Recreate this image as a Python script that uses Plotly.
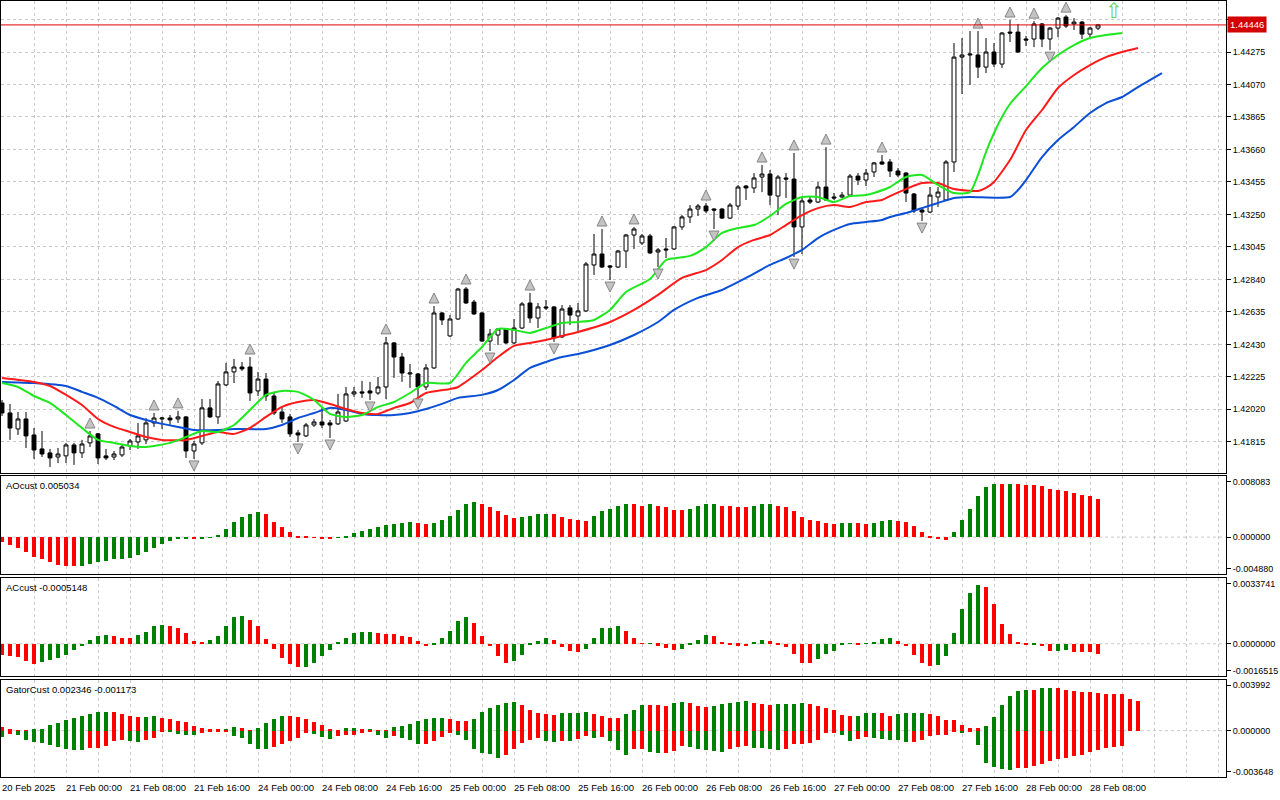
import plotly.graph_objects as go
from plotly.subplots import make_subplots

# ---------------------------------------------------------------------
# data (H1, 20 Feb 16:00 .. 28 Feb 09:00)
# ---------------------------------------------------------------------
time_labels = ["20 Feb 2025", "21 Feb 00:00", "21 Feb 08:00", "21 Feb 16:00",
               "24 Feb 00:00", "24 Feb 08:00", "24 Feb 16:00", "25 Feb 00:00",
               "25 Feb 08:00", "25 Feb 16:00", "26 Feb 00:00", "26 Feb 08:00",
               "26 Feb 16:00", "27 Feb 00:00", "27 Feb 08:00", "27 Feb 16:00",
               "28 Feb 00:00", "28 Feb 08:00"]
label_bars = [0, 8, 16, 24, 32, 40, 48, 56, 64, 72, 80, 88, 96, 104, 112, 120, 128, 136]

open_ = [
    1.42060, 1.41997, 1.41896, 1.41959, 1.41858, 1.41770, 1.41745, 1.41719, 1.41726, 1.41795,
    1.41745, 1.41808, 1.41865, 1.41726, 1.41719, 1.41732, 1.41789, 1.41814, 1.41827, 1.41934,
    1.41959, 1.41965, 1.41959, 1.41972, 1.41757, 1.41808, 1.42029, 1.41972, 1.42174, 1.42256,
    1.42287, 1.42287, 1.42136, 1.42211, 1.42104, 1.42003, 1.41972, 1.41871, 1.41852, 1.41921,
    1.41940, 1.41934, 1.41928, 1.41946, 1.42117, 1.42130, 1.42136, 1.42123, 1.42161, 1.42439,
    1.42350, 1.42243, 1.42243, 1.42161, 1.42281, 1.42628, 1.42483, 1.42590, 1.42779, 1.42697,
    1.42628, 1.42451, 1.42489, 1.42527, 1.42439, 1.42533, 1.42691, 1.42596, 1.42666, 1.42666,
    1.42477, 1.42660, 1.42609, 1.42641, 1.42931, 1.43000, 1.42925, 1.42918, 1.43019, 1.43120,
    1.43070, 1.43114, 1.43013, 1.43032, 1.43032, 1.43171, 1.43234, 1.43284, 1.43303, 1.43284,
    1.43284, 1.43227, 1.43303, 1.43429, 1.43417, 1.43486, 1.43505, 1.43366, 1.43480, 1.43473,
    1.43171, 1.43341, 1.43328, 1.43423, 1.43360, 1.43360, 1.43372, 1.43492, 1.43467, 1.43518,
    1.43581, 1.43581, 1.43524, 1.43511, 1.43379, 1.43278, 1.43265, 1.43360, 1.43341, 1.43581,
    1.44243, 1.44256, 1.44256, 1.44180, 1.44275, 1.44199, 1.44401, 1.44401, 1.44357, 1.44357,
    1.44452, 1.44357, 1.44426, 1.44496, 1.44452, 1.44464, 1.44388, 1.44426,
]
high = [
    1.42079, 1.42054, 1.42003, 1.42003, 1.41902, 1.41883, 1.41770, 1.41776, 1.41808, 1.41808,
    1.41827, 1.41883, 1.41871, 1.41770, 1.41757, 1.41801, 1.41833, 1.41934, 1.41965, 1.41997,
    1.41972, 1.41984, 1.42010, 1.41978, 1.41820, 1.42085, 1.42085, 1.42199, 1.42313, 1.42338,
    1.42319, 1.42350, 1.42256, 1.42249, 1.42130, 1.42035, 1.41991, 1.41890, 1.41934, 1.41959,
    1.42029, 1.41953, 1.42117, 1.42161, 1.42161, 1.42199, 1.42193, 1.42224, 1.42477, 1.42445,
    1.42376, 1.42306, 1.42249, 1.42306, 1.42672, 1.42634, 1.42615, 1.42786, 1.42792, 1.42710,
    1.42634, 1.42527, 1.42533, 1.42533, 1.42590, 1.42697, 1.42754, 1.42691, 1.42710, 1.42672,
    1.42678, 1.42678, 1.42691, 1.42950, 1.43127, 1.43158, 1.42931, 1.43026, 1.43127, 1.43171,
    1.43127, 1.43127, 1.43038, 1.43101, 1.43177, 1.43246, 1.43309, 1.43316, 1.43322, 1.43290,
    1.43290, 1.43322, 1.43436, 1.43436, 1.43511, 1.43562, 1.43530, 1.43499, 1.43511, 1.43638,
    1.43360, 1.43366, 1.43455, 1.43675, 1.43385, 1.43391, 1.43505, 1.43511, 1.43537, 1.43581,
    1.43625, 1.43600, 1.43543, 1.43518, 1.43385, 1.43297, 1.43423, 1.43423, 1.43593, 1.44332,
    1.44363, 1.44407, 1.44407, 1.44363, 1.44332, 1.44401, 1.44477, 1.44452, 1.44376, 1.44470,
    1.44458, 1.44433, 1.44496, 1.44508, 1.44489, 1.44470, 1.44433, 1.44452,
]
low = [
    1.41978, 1.41827, 1.41858, 1.41776, 1.41707, 1.41719, 1.41656, 1.41681, 1.41681, 1.41669,
    1.41713, 1.41782, 1.41675, 1.41700, 1.41700, 1.41719, 1.41763, 1.41770, 1.41801, 1.41909,
    1.41896, 1.41921, 1.41934, 1.41713, 1.41707, 1.41795, 1.41965, 1.41928, 1.42167, 1.42186,
    1.42262, 1.42073, 1.42104, 1.42073, 1.41984, 1.41934, 1.41845, 1.41814, 1.41845, 1.41909,
    1.41902, 1.41839, 1.41921, 1.41940, 1.42098, 1.42092, 1.42079, 1.42111, 1.42085, 1.42218,
    1.42193, 1.42155, 1.42098, 1.42142, 1.42275, 1.42552, 1.42477, 1.42584, 1.42685, 1.42615,
    1.42445, 1.42388, 1.42426, 1.42432, 1.42432, 1.42527, 1.42565, 1.42533, 1.42647, 1.42445,
    1.42470, 1.42552, 1.42508, 1.42634, 1.42868, 1.42912, 1.42836, 1.42912, 1.42912, 1.43032,
    1.43057, 1.43000, 1.42918, 1.42975, 1.43026, 1.43152, 1.43196, 1.43240, 1.43259, 1.43158,
    1.43221, 1.43221, 1.43278, 1.43341, 1.43385, 1.43391, 1.43309, 1.43246, 1.43354, 1.42981,
    1.43000, 1.43316, 1.43322, 1.43335, 1.43341, 1.43354, 1.43366, 1.43436, 1.43429, 1.43486,
    1.43562, 1.43486, 1.43486, 1.43328, 1.43259, 1.43208, 1.43259, 1.43297, 1.43335, 1.43518,
    1.44010, 1.44067, 1.44111, 1.44142, 1.44180, 1.44174, 1.44338, 1.44269, 1.44313, 1.44306,
    1.44306, 1.44287, 1.44369, 1.44426, 1.44414, 1.44357, 1.44369, 1.44414,
]
close = [
    1.41997, 1.41902, 1.41959, 1.41852, 1.41763, 1.41738, 1.41713, 1.41738, 1.41795, 1.41745,
    1.41801, 1.41852, 1.41713, 1.41713, 1.41738, 1.41782, 1.41820, 1.41852, 1.41934, 1.41965,
    1.41965, 1.41953, 1.41972, 1.41757, 1.41801, 1.42029, 1.41972, 1.42180, 1.42256, 1.42287,
    1.42275, 1.42123, 1.42211, 1.42104, 1.41997, 1.41959, 1.41865, 1.41858, 1.41921, 1.41940,
    1.41921, 1.41921, 1.42003, 1.42117, 1.42130, 1.42123, 1.42123, 1.42161, 1.42439, 1.42350,
    1.42249, 1.42249, 1.42161, 1.42281, 1.42628, 1.42584, 1.42590, 1.42779, 1.42691, 1.42622,
    1.42451, 1.42495, 1.42527, 1.42439, 1.42533, 1.42685, 1.42596, 1.42666, 1.42660, 1.42470,
    1.42653, 1.42615, 1.42641, 1.42937, 1.43000, 1.42918, 1.42918, 1.43019, 1.43120, 1.43158,
    1.43114, 1.43007, 1.43026, 1.43026, 1.43171, 1.43234, 1.43284, 1.43303, 1.43272, 1.43278,
    1.43227, 1.43309, 1.43423, 1.43417, 1.43480, 1.43505, 1.43372, 1.43486, 1.43473, 1.43171,
    1.43335, 1.43328, 1.43423, 1.43341, 1.43354, 1.43372, 1.43492, 1.43467, 1.43511, 1.43575,
    1.43568, 1.43524, 1.43499, 1.43385, 1.43272, 1.43265, 1.43372, 1.43391, 1.43581, 1.44243,
    1.44256, 1.44262, 1.44180, 1.44275, 1.44199, 1.44395, 1.44395, 1.44275, 1.44351, 1.44452,
    1.44357, 1.44426, 1.44489, 1.44439, 1.44464, 1.44388, 1.44426, 1.44446,
]

# alligator lines (read at sample bars; jaw +8, teeth +5, lips +3 shift)
jaw_idx = [0, 4, 8, 10, 12, 14, 16, 18, 20, 22, 24, 27, 29, 33, 35, 37, 39, 41, 43, 45,
           47, 49, 51, 53, 55, 57, 60, 62, 64, 66, 68, 70, 72, 76, 79, 82, 84, 87, 90, 93,
           96, 98, 100, 102, 104, 106, 108, 110, 111, 113, 115, 117, 119, 121, 126, 127, 128,
           130, 132, 134, 136, 138, 140, 142, 145]
jaw_val = [1.42193, 1.42186, 1.42167, 1.42130, 1.42092, 1.42041, 1.41984, 1.41953, 1.41928,
           1.41909, 1.41890, 1.41890, 1.41896, 1.41896, 1.41921, 1.41965, 1.41997, 1.42029,
           1.42016, 1.41991, 1.41984, 1.41984, 1.41997, 1.42022, 1.42054, 1.42092, 1.42111,
           1.42142, 1.42205, 1.42281, 1.42319, 1.42350, 1.42369, 1.42426, 1.42489, 1.42571,
           1.42647, 1.42723, 1.42773, 1.42849, 1.42931, 1.42975, 1.43026, 1.43101, 1.43152,
           1.43190, 1.43202, 1.43215, 1.43234, 1.43259, 1.43290, 1.43322, 1.43354, 1.43360,
           1.43360, 1.43404, 1.43467, 1.43612, 1.43720, 1.43802, 1.43890, 1.43953, 1.43991,
           1.44054, 1.44142]
teeth_idx = [0, 4, 6, 8, 10, 12, 14, 16, 18, 20, 23, 25, 27, 29, 31, 33, 35, 37, 39, 41,
             43, 45, 47, 49, 51, 53, 56, 57, 60, 62, 64, 66, 68, 70, 72, 76, 79, 82, 85, 88,
             90, 92, 94, 96, 98, 100, 102, 104, 106, 108, 110, 111, 113, 115, 117, 119, 122,
             123, 124, 126, 128, 130, 132, 134, 136, 138, 140, 142]
teeth_val = [1.42218, 1.42193, 1.42167, 1.42111, 1.42047, 1.41959, 1.41909, 1.41877, 1.41845,
             1.41827, 1.41827, 1.41852, 1.41877, 1.41865, 1.41902, 1.41972, 1.42035, 1.42066,
             1.42079, 1.42054, 1.42022, 1.41997, 1.41991, 1.42029, 1.42060, 1.42123, 1.42148,
             1.42161, 1.42268, 1.42350, 1.42420, 1.42439, 1.42458, 1.42483, 1.42508, 1.42571,
             1.42647, 1.42742, 1.42849, 1.42899, 1.42962, 1.43044, 1.43089, 1.43120, 1.43183,
             1.43246, 1.43290, 1.43309, 1.43297, 1.43328, 1.43341, 1.43366, 1.43410, 1.43448,
             1.43448, 1.43410, 1.43398, 1.43417, 1.43455, 1.43593, 1.43783, 1.43909, 1.44048,
             1.44130, 1.44193, 1.44243, 1.44275, 1.44300]
lips_idx = [0, 2, 4, 6, 8, 10, 12, 14, 16, 18, 21, 23, 25, 27, 29, 31, 33, 35, 37, 39,
            41, 43, 45, 47, 49, 51, 53, 56, 58, 60, 62, 64, 66, 68, 70, 72, 74, 76, 78, 81,
            83, 86, 88, 90, 92, 94, 96, 98, 100, 102, 104, 106, 108, 109, 111, 113, 115, 117,
            119, 121, 122, 123, 124, 125, 126, 128, 130, 132, 134, 136, 138, 140]
lips_val = [1.42186, 1.42161, 1.42104, 1.42060, 1.41984, 1.41902, 1.41827, 1.41808, 1.41789,
            1.41782, 1.41808, 1.41845, 1.41883, 1.41877, 1.41921, 1.42016, 1.42111, 1.42136,
            1.42130, 1.42079, 1.41991, 1.41972, 1.41984, 1.42035, 1.42066, 1.42123, 1.42186,
            1.42186, 1.42313, 1.42413, 1.42527, 1.42521, 1.42502, 1.42533, 1.42565, 1.42571,
            1.42584, 1.42647, 1.42760, 1.42842, 1.42962, 1.42988, 1.43044, 1.43133, 1.43164,
            1.43183, 1.43240, 1.43316, 1.43360, 1.43360, 1.43328, 1.43366, 1.43372, 1.43385,
            1.43423, 1.43486, 1.43499, 1.43436, 1.43385, 1.43391, 1.43499, 1.43644, 1.43764,
            1.43865, 1.43947, 1.44060, 1.44174, 1.44256, 1.44319, 1.44363, 1.44382, 1.44395]

# fractal bars
frac_up = [11, 19, 22, 31, 48, 54, 58, 66, 75, 79, 88, 95, 99, 103, 110, 122, 126, 129, 133]
frac_dn = [6, 9, 12, 24, 37, 41, 46, 52, 61, 69, 76, 82, 89, 99, 115, 131]

# signal arrow after the last bar
signal_bars = [139]
signal_prices = [1.44520]

price_ticks = [1.41815, 1.42020, 1.42225, 1.42430, 1.42635, 1.42840, 1.43045,
               1.43250, 1.43455, 1.43660, 1.43865, 1.44070, 1.44275, 1.44480]

ao = [
    -0.00062, -0.00107, -0.00142, -0.00196, -0.00263, -0.00294, -0.00329, -0.00365, -0.00383, -0.00386,
    -0.00380, -0.00360, -0.00334, -0.00316, -0.00294, -0.00285, -0.00276, -0.00240, -0.00196, -0.00142,
    -0.00085, -0.00045, -0.00022, -0.00013, -0.00022, -0.00013, -0.00004, 0.00027, 0.00102, 0.00200,
    0.00267, 0.00307, 0.00334, 0.00312, 0.00200, 0.00134, 0.00067, 0.00018, 0.00004, -0.00004,
    -0.00022, -0.00031, -0.00009, 0.00013, 0.00058, 0.00080, 0.00107, 0.00134, 0.00156, 0.00174,
    0.00191, 0.00196, 0.00191, 0.00174, 0.00191, 0.00227, 0.00285, 0.00360, 0.00441, 0.00467,
    0.00432, 0.00400, 0.00352, 0.00298, 0.00254, 0.00263, 0.00285, 0.00303, 0.00307, 0.00305,
    0.00267, 0.00240, 0.00231, 0.00218, 0.00280, 0.00352, 0.00374, 0.00418, 0.00441, 0.00432,
    0.00418, 0.00432, 0.00418, 0.00392, 0.00365, 0.00363, 0.00366, 0.00405, 0.00432, 0.00433,
    0.00418, 0.00405, 0.00404, 0.00392, 0.00405, 0.00432, 0.00433, 0.00405, 0.00392, 0.00352,
    0.00267, 0.00227, 0.00218, 0.00191, 0.00178, 0.00191, 0.00192, 0.00190, 0.00178, 0.00191,
    0.00218, 0.00227, 0.00218, 0.00200, 0.00147, 0.00067, 0.00013, -0.00031, -0.00033, 0.00067,
    0.00227, 0.00374, 0.00538, 0.00668, 0.00708, 0.00703, 0.00709, 0.00706, 0.00694, 0.00692,
    0.00681, 0.00641, 0.00627, 0.00610, 0.00583, 0.00561, 0.00547, 0.005034,
]
ac = [
    -0.00058, -0.00063, -0.00068, -0.00089, -0.00106, -0.00094, -0.00084, -0.00072, -0.00055, -0.00032,
    -0.00012, 0.00022, 0.00039, 0.00043, 0.00038, 0.00032, 0.00029, 0.00043, 0.00058, 0.00091,
    0.00094, 0.00093, 0.00079, 0.00053, 0.00012, 0.00011, 0.00022, 0.00038, 0.00089, 0.00135,
    0.00145, 0.00120, 0.00089, 0.00027, -0.00027, -0.00074, -0.00106, -0.00120, -0.00119, -0.00096,
    -0.00063, -0.00032, 0.00005, 0.00032, 0.00053, 0.00060, 0.00063, 0.00053, 0.00052, 0.00050,
    0.00039, 0.00034, 0.00012, -0.00012, -0.00003, 0.00032, 0.00068, 0.00115, 0.00140, 0.00109,
    0.00038, -0.00012, -0.00065, -0.00096, -0.00089, -0.00055, -0.00007, 0.00015, 0.00032, 0.00017,
    -0.00017, -0.00038, -0.00043, -0.00029, 0.00031, 0.00082, 0.00083, 0.00092, 0.00068, 0.00032,
    0.00003, 0.00004, -0.00010, -0.00021, -0.00034, -0.00029, -0.00007, 0.00021, 0.00043, 0.00038,
    0.00009, -0.00007, -0.00010, -0.00012, 0.00005, 0.00021, 0.00015, -0.00007, -0.00017, -0.00050,
    -0.00096, -0.00099, -0.00079, -0.00051, -0.00038, -0.00005, 0.00001, -0.00002, 0.00001, 0.00007,
    0.00027, 0.00028, 0.00012, -0.00012, -0.00055, -0.00101, -0.00115, -0.00109, -0.00063, 0.00053,
    0.00181, 0.00258, 0.00299, 0.00292, 0.00202, 0.00099, 0.00048, 0.00007, -0.00005, -0.00002,
    -0.00012, -0.00038, -0.00037, -0.00031, -0.00041, -0.00042, -0.00043, -0.0005148,
]
gator_up = [
    0.00029, 0.00016, 0.00005, 0.00003, 0.00008, 0.00016, 0.00042, 0.00063, 0.00081, 0.00097,
    0.00118, 0.00134, 0.00144, 0.00145, 0.00144, 0.00129, 0.00113, 0.00110, 0.00111, 0.00118,
    0.00102, 0.00095, 0.00079, 0.00066, 0.00037, 0.00018, 0.00016, 0.00008, 0.00016, 0.00032,
    0.00021, 0.00004, 0.00021, 0.00060, 0.00092, 0.00118, 0.00117, 0.00108, 0.00089, 0.00068,
    0.00047, 0.00013, 0.00005, 0.00024, 0.00025, 0.00016, 0.00017, 0.00005, 0.00003, 0.00032,
    0.00039, 0.00050, 0.00074, 0.00095, 0.00102, 0.00103, 0.00095, 0.00076, 0.00074, 0.00095,
    0.00150, 0.00176, 0.00200, 0.00215, 0.00223, 0.00200, 0.00166, 0.00139, 0.00129, 0.00121,
    0.00137, 0.00142, 0.00143, 0.00144, 0.00129, 0.00116, 0.00102, 0.00101, 0.00129, 0.00166,
    0.00205, 0.00204, 0.00203, 0.00197, 0.00221, 0.00229, 0.00221, 0.00192, 0.00187, 0.00197,
    0.00208, 0.00221, 0.00229, 0.00230, 0.00218, 0.00208, 0.00200, 0.00208, 0.00209, 0.00213,
    0.00221, 0.00208, 0.00194, 0.00181, 0.00163, 0.00121, 0.00116, 0.00117, 0.00142, 0.00143,
    0.00142, 0.00116, 0.00129, 0.00139, 0.00142, 0.00143, 0.00129, 0.00116, 0.00084, 0.00081,
    0.00042, 0.00024, 0.00023, 0.00037, 0.00108, 0.00202, 0.00273, 0.00313, 0.00323, 0.00322,
    0.00339, 0.00340, 0.00338, 0.00320, 0.00313, 0.00305, 0.00304, 0.00299, 0.00292, 0.00291,
    0.00286, 0.00252, 0.002346,
]
gator_dn = [
    -0.00047, -0.00029, -0.00037, -0.00071, -0.00089, -0.00100, -0.00116, -0.00129, -0.00142, -0.00152,
    -0.00155, -0.00137, -0.00134, -0.00118, -0.00081, -0.00071, -0.00081, -0.00089, -0.00076, -0.00055,
    -0.00011, -0.00013, -0.00029, -0.00032, -0.00034, -0.00018, -0.00008, -0.00005, -0.00003, -0.00045,
    -0.00055, -0.00108, -0.00142, -0.00147, -0.00131, -0.00108, -0.00084, -0.00055, -0.00021, -0.00024,
    -0.00053, -0.00063, -0.00045, -0.00037, -0.00034, -0.00016, -0.00003, -0.00037, -0.00055, -0.00042,
    -0.00055, -0.00074, -0.00108, -0.00105, -0.00084, -0.00053, -0.00016, -0.00037, -0.00074, -0.00147,
    -0.00173, -0.00187, -0.00213, -0.00194, -0.00142, -0.00100, -0.00074, -0.00060, -0.00081, -0.00089,
    -0.00081, -0.00084, -0.00068, -0.00045, -0.00055, -0.00047, -0.00081, -0.00155, -0.00194, -0.00147,
    -0.00144, -0.00166, -0.00179, -0.00176, -0.00160, -0.00123, -0.00126, -0.00142, -0.00155, -0.00163,
    -0.00166, -0.00147, -0.00126, -0.00121, -0.00134, -0.00139, -0.00142, -0.00152, -0.00142, -0.00108,
    -0.00102, -0.00100, -0.00074, -0.00021, -0.00018, -0.00034, -0.00081, -0.00068, -0.00050, -0.00060,
    -0.00066, -0.00071, -0.00076, -0.00089, -0.00087, -0.00076, -0.00042, -0.00034, -0.00032, -0.00013,
    -0.00016, -0.00005, -0.00116, -0.00252, -0.00286, -0.00305, -0.00307, -0.00297, -0.00292, -0.00278,
    -0.00260, -0.00242, -0.00226, -0.00213, -0.00202, -0.00192, -0.00171, -0.00155, -0.00139, -0.00129,
    -0.001173,
]

# indicator window scales as shown on the right
ao_scale = (-0.004880, 0.008083)
ac_scale = (-0.0016515, 0.0033741)
gator_scale = (-0.003648, 0.003992)

# ---------------------------------------------------------------------
GREEN = "#008000"
RED = "#ff0000"
GRID = "#c8c8c8"
FONT = "Liberation Sans, Arial, sans-serif"


def bar_colors(values, by_size=False, first=RED):
    """MT5 style: green when the bar grows, red otherwise."""
    out = []
    prev = None
    for v in values:
        cur = abs(v) if by_size else v
        if prev is None:
            out.append(first)
        else:
            out.append(GREEN if cur > prev else RED)
        prev = cur
    return out


bars = list(range(len(close)))

fig = make_subplots(rows=4, cols=1, shared_xaxes=True, vertical_spacing=0.004)

fig.add_trace(go.Candlestick(
    x=bars, open=open_, high=high, low=low, close=close,
    increasing=dict(line=dict(color="black", width=1), fillcolor="white"),
    decreasing=dict(line=dict(color="black", width=1), fillcolor="black"),
    whiskerwidth=0, hoverinfo="skip", showlegend=False,
), row=1, col=1)

for idx, val, col in [(jaw_idx, jaw_val, "#0a4fd6"),
                      (teeth_idx, teeth_val, "#ff1a1a"),
                      (lips_idx, lips_val, "#1fe81f")]:
    fig.add_trace(go.Scatter(
        x=idx, y=val, mode="lines", hoverinfo="skip", showlegend=False,
        line=dict(color=col, width=2, shape="spline", smoothing=0.6),
    ), row=1, col=1)

fig.add_trace(go.Scatter(
    x=frac_up, y=[high[i] + 0.00082 for i in frac_up], mode="markers",
    marker=dict(symbol="arrow-up", size=10, color="#c4c4c4",
                line=dict(color="#858585", width=1)),
    hoverinfo="skip", showlegend=False,
), row=1, col=1)
fig.add_trace(go.Scatter(
    x=frac_dn, y=[low[i] - 0.00076 for i in frac_dn], mode="markers",
    marker=dict(symbol="arrow-down", size=10, color="#c4c4c4",
                line=dict(color="#858585", width=1)),
    hoverinfo="skip", showlegend=False,
), row=1, col=1)

fig.add_trace(go.Scatter(
    x=signal_bars, y=signal_prices, mode="text", text=["\u21e7"],
    textfont=dict(size=21, color="#5fd35f", family="DejaVu Sans"),
    cliponaxis=False, hoverinfo="skip", showlegend=False,
), row=1, col=1)

fig.add_trace(go.Bar(x=bars, y=ao, marker_color=bar_colors(ao), width=0.5,
                     marker_line_width=0, hoverinfo="skip", showlegend=False), row=2, col=1)
fig.add_trace(go.Bar(x=bars, y=ac, marker_color=bar_colors(ac), width=0.5,
                     marker_line_width=0, hoverinfo="skip", showlegend=False), row=3, col=1)
fig.add_trace(go.Bar(x=list(range(len(gator_up))), y=gator_up,
                     marker_color=bar_colors(gator_up, True), width=0.5,
                     marker_line_width=0, hoverinfo="skip", showlegend=False), row=4, col=1)
fig.add_trace(go.Bar(x=list(range(len(gator_dn))), y=gator_dn,
                     marker_color=bar_colors(gator_dn, True, GREEN), width=0.5,
                     marker_line_width=0, hoverinfo="skip", showlegend=False), row=4, col=1)

# axes ------------------------------------------------------------------
fig.update_xaxes(range=[-0.125, 153], tick0=0, dtick=4, showticklabels=False,
                 showgrid=True, gridcolor=GRID, griddash="3px,3px", gridwidth=1,
                 showline=True, mirror=True, linecolor="black", linewidth=1,
                 zeroline=False, ticks="", rangeslider_visible=False, fixedrange=True)
fig.update_yaxes(side="right", showline=True, mirror=True, linecolor="black", linewidth=1,
                 ticks="outside", ticklen=4, tickcolor="black", zeroline=False,
                 tickfont=dict(size=9, family=FONT, color="black"), fixedrange=True)

fig.update_layout(
    yaxis=dict(domain=[0.39175, 1.0], range=[1.41618, 1.44597],
               tickvals=price_ticks, ticktext=[f"{v:.5f}" for v in price_ticks],
               showgrid=True, gridcolor=GRID, griddash="3px,3px"),
)


def sub_axis(scale, digits):
    lo, hi = scale
    inset = (hi - lo) * 0.055
    return dict(range=[lo, hi], showgrid=False,
                tickvals=[lo + inset, 0, hi - inset],
                ticktext=[f"{lo:.{digits}f}", f"{0:.{digits}f}", f"{hi:.{digits}f}"])


fig.update_layout(
    yaxis2=dict(domain=[0.26160, 0.38789], **sub_axis(ao_scale, 6)),
    yaxis3=dict(domain=[0.13015, 0.25644], **sub_axis(ac_scale, 7)),
    yaxis4=dict(domain=[0.0, 0.12500], **sub_axis(gator_scale, 6)),
)

# shapes: zero lines, current price line ---------------------------------
shapes = []
for n in (2, 3, 4):
    shapes.append(dict(type="line", xref=f"x{n} domain", x0=0, x1=1, yref=f"y{n}",
                       y0=0, y1=0, line=dict(color=GRID, width=1, dash="3px,3px"),
                       layer="below"))
shapes.append(dict(type="line", xref="x domain", x0=0, x1=1, yref="y",
                   y0=close[-1], y1=close[-1], line=dict(color="#e00000", width=1)))

annotations = []
for b, txt in zip(label_bars, time_labels):
    annotations.append(dict(x=b, xref="x", y=0, yref="paper", yanchor="top", yshift=-3,
                            xanchor="left", xshift=-2, text=txt, showarrow=False,
                            font=dict(size=9.5, color="black", family=FONT)))

annotations.append(dict(xref="paper", x=1, xanchor="left", xshift=1, yref="y", y=close[-1],
                        text=f"{close[-1]:.5f}", showarrow=False, bgcolor="#d40000",
                        borderpad=2, font=dict(size=9.5, color="white", family=FONT)))

panel_titles = [("y2", f"AOcust {ao[-1]:.6f}"),
                ("y3", f"ACcust {ac[-1]:.7f}"),
                ("y4", f"GatorCust {gator_up[-1]:.6f} {gator_dn[-1]:.6f}")]
for yref, txt in panel_titles:
    annotations.append(dict(xref="paper", x=0, xanchor="left", xshift=3,
                            yref=f"{yref} domain", y=1, yanchor="top", yshift=-2,
                            text=txt, showarrow=False,
                            font=dict(size=9.5, color="black", family=FONT)))

fig.update_layout(
    width=1280, height=800,
    margin=dict(l=1, r=54, t=1, b=23),
    paper_bgcolor="white", plot_bgcolor="white",
    font=dict(family=FONT, size=9.5, color="black"),
    barmode="overlay", bargap=0, showlegend=False, hovermode=False,
    shapes=shapes, annotations=annotations,
)

# no modebar, and drop the browser's default 8px page margin
fig.write_html("out.html", config={"displayModeBar": False},
               post_script="document.body.style.margin='0px';")
